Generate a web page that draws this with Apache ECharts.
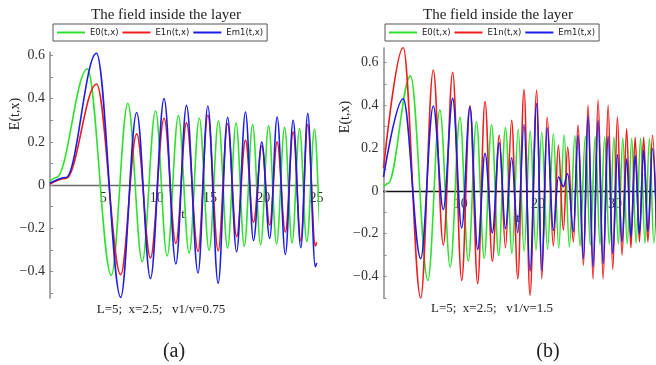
<!DOCTYPE html>
<html><head><meta charset="utf-8">
<script src="https://cdn.jsdelivr.net/npm/echarts@6/dist/echarts.min.js"></script>
<style>html,body{margin:0;padding:0;background:#fff}#c{width:656px;height:365px}</style>
</head><body><div id="c"></div>
<script>
// ---- data (extrema of each curve) ----
const seriesNames = ['E0(t,x)', 'E1n(t,x)', 'Em1(t,x)'];
// E0 is the same curve in both panels
const e0T = [0, 0.6, 3.5, 5.75, 7.3, 8.65, 9.9, 10.98, 12.04, 13.05, 14.0, 14.92, 15.8, 16.65, 17.45, 18.22, 19.0, 19.75, 20.5, 21.25, 22.0, 22.7, 23.4, 24.08, 24.8, 25.45, 26.15, 26.8, 27.42, 28.05, 28.65, 29.25, 29.85, 30.42, 31.0, 31.57, 32.15, 32.72, 33.3, 33.87, 34.45, 35.02, 35.6];
const e0V = [0.018, 0.035, 0.537, -0.418, 0.378, -0.355, 0.343, -0.328, 0.322, -0.314, 0.309, -0.302, 0.296, -0.292, 0.287, -0.283, 0.28, -0.277, 0.275, -0.272, 0.267, -0.268, 0.262, -0.262, 0.258, -0.258, 0.256, -0.255, 0.254, -0.252, 0.252, -0.25, 0.25, -0.248, 0.248, -0.247, 0.246, -0.245, 0.245, -0.244, 0.244, -0.243, 0.243];
// panel (a): v1/v = 0.75
const tA = [0, 1.5, 4.36, 6.63, 8.13, 9.42, 10.7, 11.8, 12.8, 13.88, 14.8, 15.77, 16.65, 17.5, 18.33, 19.08, 19.86, 20.6, 21.3, 22.07, 22.8, 23.52, 24.17, 24.88, 25.0];
const e1nA = [0.005, 0.03, 0.468, -0.415, 0.237, -0.338, 0.309, -0.27, 0.288, -0.307, 0.323, -0.305, 0.284, -0.239, 0.208, -0.173, 0.182, -0.185, 0.2, -0.218, 0.245, -0.258, 0.28, -0.282, -0.265];
const em1A = [0.008, 0.035, 0.61, -0.52, 0.336, -0.433, 0.40, -0.365, 0.369, -0.407, 0.366, -0.455, 0.314, -0.309, 0.338, -0.257, 0.199, -0.247, 0.315, -0.321, 0.30, -0.29, 0.332, -0.378, -0.36];
// panel (b): v1/v = 1.5
const tB = [0, 2.55, 4.82, 6.45, 7.75, 8.96, 10.13, 11.2, 12.2, 13.15, 14.1, 15.0, 15.8, 16.6, 17.4, 18.2, 18.98, 19.85, 20.5, 21.2, 22.0, 22.65, 23.3, 23.86, 24.6, 25.2, 25.9, 26.5, 27.15, 27.8, 28.45, 29.1, 29.7, 30.3, 30.9, 31.5, 32.05, 32.6, 33.15, 33.7, 34.25, 34.85, 35.4];
const e1nB = [0.105, 0.67, -0.50, 0.564, -0.252, 0.553, -0.418, 0.397, -0.433, 0.417, -0.328, 0.26, -0.265, 0.33, -0.41, 0.473, -0.487, 0.47, -0.41, 0.344, -0.257, 0.213, -0.184, 0.205, -0.238, 0.307, -0.347, 0.40, -0.41, 0.424, -0.41, 0.40, -0.367, 0.345, -0.30, 0.29, -0.265, 0.25, -0.238, 0.25, -0.238, 0.26, -0.22];
const em1B = [0.065, 0.43, -0.316, 0.396, -0.087, 0.432, -0.173, 0.393, -0.274, 0.176, -0.196, 0.224, -0.176, 0.155, -0.195, 0.31, -0.375, 0.408, -0.372, 0.295, -0.185, 0.065, 0.02, 0.081, -0.19, 0.26, -0.316, 0.35, -0.355, 0.33, -0.34, 0.255, -0.293, 0.17, -0.238, 0.15, -0.215, 0.165, -0.2, 0.19, -0.19, 0.198, -0.18];
// ticks
const yTicks = [-0.4, -0.2, 0, 0.2, 0.4, 0.6];
const yMinor = [-0.5, -0.4, -0.3, -0.2, -0.1, 0, 0.1, 0.2, 0.3, 0.4, 0.5, 0.6];
const xTicksA = [5, 10, 15, 20, 25];
const xTicksB = [10, 20, 30];
const titleText = 'The field inside the layer';
const noteA = 'L=5;  x=2.5;   v1/v=0.75';
const noteB = 'L=5;  x=2.5;   v1/v=1.5';

// ---- chart ----
const chart = echarts.init(document.getElementById('c'), null, {renderer: 'canvas'});
const serif = '"Liberation Serif","Times New Roman",serif';
const colors = ['#2fe02f', '#ee1c1c', '#1c1ce6'];
const gA = {left: 50, top: 52, width: 266.6, height: 246, ymin: -0.523, ymax: 0.616};
const gB = {left: 383.5, top: 48, width: 272.5, height: 250, ymin: -0.5, ymax: 0.667};
function pairs(t, v) { return t.map((x, i) => [x, v[i]]); }
function line(k, xi, t, v) {
  return {type: 'line', name: seriesNames[k], xAxisIndex: xi, yAxisIndex: xi, data: pairs(t, v),
    smooth: 0.36, smoothMonotone: 'x', symbol: 'none', z: 2 + k, silent: true,
    legendIcon: 'path://M0,0H28V2H0Z',
    lineStyle: {color: colors[k], width: 1.6}, itemStyle: {color: colors[k]}};
}
function xAx(gi, g, max, ticks, lc) {
  // place the axis on the y = 0 line of its grid
  const zeroOffset = -g.height * (0 - g.ymin) / (g.ymax - g.ymin);
  return {type: 'value', gridIndex: gi, min: 0, max: max, position: 'bottom', offset: zeroOffset,
    axisLine: {onZero: false, lineStyle: {color: lc, width: 1.3}},
    axisTick: {show: false}, splitLine: {show: false},
    axisLabel: {customValues: ticks, margin: 6, color: '#333', fontFamily: serif, fontSize: 14}};
}
function yAx(gi, g) {
  return {type: 'value', gridIndex: gi, min: g.ymin, max: g.ymax,
    axisLine: {show: true, onZero: false, lineStyle: {color: '#8a8a8a', width: 1.5}},
    axisTick: {show: true, inside: true, length: 3, customValues: yMinor, lineStyle: {color: '#8a8a8a'}},
    splitLine: {show: false},
    axisLabel: {customValues: yTicks, margin: 5, color: '#333', fontFamily: serif, fontSize: 14,
      formatter: v => (v < 0 ? '\u2212' : '') + Math.abs(v)}};
}
function legend(left) {
  return {left: left, top: 24, data: seriesNames, selectedMode: false, orient: 'horizontal',
    icon: 'path://M0,0H28V2H0Z',
    itemWidth: 28, itemHeight: 10, itemGap: 4, padding: [4, 4, 4, 4],
    borderColor: '#555', borderWidth: 1,
    textStyle: {fontFamily: '"DejaVu Sans"', fontSize: 8.5, color: '#222'}};
}
function txt(x, y, text, size, extra) {
  return Object.assign({type: 'text', x: x, y: y,
    style: {text: text, font: size + 'px ' + serif, fill: '#222', align: 'center', verticalAlign: 'middle'}}, extra || {});
}
chart.setOption({
  animation: false,
  backgroundColor: '#fff',
  grid: [
    {left: gA.left, top: gA.top, width: gA.width, height: gA.height},
    {left: gB.left, top: gB.top, width: gB.width, height: gB.height}
  ],
  xAxis: [xAx(0, gA, 25, xTicksA, '#6a6a6a'), xAx(1, gB, 35.3, xTicksB, '#111')],
  yAxis: [yAx(0, gA), yAx(1, gB)],
  legend: [legend(53), legend(385)],
  series: [
    line(0, 0, e0T, e0V), line(1, 0, tA, e1nA), line(2, 0, tA, em1A),
    line(0, 1, e0T, e0V), line(1, 1, tB, e1nB), line(2, 1, tB, em1B)
  ],
  graphic: [
    txt(166, 15, titleText, 15),
    txt(498, 15, titleText, 15),
    txt(15, 114, 'E(t,x)', 14, {rotation: Math.PI / 2}),
    txt(345, 117, 'E(t,x)', 14, {rotation: Math.PI / 2}),
    txt(183, 215, 't', 13),
    txt(518, 219, 't', 13),
    txt(161, 310, noteA, 13),
    txt(492, 309, noteB, 13),
    txt(174, 352, '(a)', 20),
    txt(548, 352, '(b)', 20)
  ]
});
</script></body></html>
